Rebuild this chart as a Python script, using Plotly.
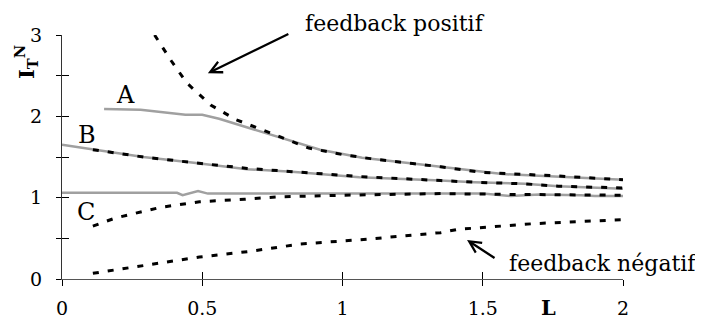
import plotly.graph_objects as go

# Curve A (grey, solid)
a_x = [0.15, 0.28, 0.44, 0.50, 0.56, 0.71, 0.83, 0.92, 1.01, 1.07, 1.25, 1.35, 1.57, 1.70, 2.0]
a_y = [2.09, 2.08, 2.02, 2.02, 1.97, 1.81, 1.69, 1.59, 1.53, 1.49, 1.42, 1.38, 1.29, 1.27, 1.22]

# Positive feedback (dashed)
pos_x = [0.33, 0.39, 0.445, 0.53, 0.62, 0.73, 0.82, 0.88, 1.0, 1.1, 1.25, 1.35, 1.5, 1.75, 2.0]
pos_y = [3.0, 2.68, 2.41, 2.14, 1.96, 1.81, 1.69, 1.61, 1.53, 1.48, 1.42, 1.38, 1.31, 1.27, 1.22]

# Curve B (grey, solid)
b_x = [0.0, 0.11, 0.29, 0.47, 0.66, 0.82, 1.06, 1.35, 1.47, 1.65, 1.77, 2.0]
b_y = [1.65, 1.59, 1.50, 1.43, 1.35, 1.32, 1.25, 1.21, 1.19, 1.17, 1.14, 1.11]

# Dashed along B
bd_x = [0.11, 0.29, 0.47, 0.66, 0.82, 1.06, 1.35, 1.47, 1.65, 1.77, 2.0]
bd_y = [1.59, 1.50, 1.43, 1.36, 1.32, 1.26, 1.21, 1.19, 1.17, 1.14, 1.12]

# Curve C (grey, solid)
c_x = [0.0, 0.30, 0.41, 0.43, 0.485, 0.52, 0.8, 1.2, 1.5, 1.6, 1.7, 1.85, 1.9, 2.0]
c_y = [1.06, 1.06, 1.06, 1.03, 1.08, 1.05, 1.05, 1.05, 1.05, 1.02, 1.04, 1.03, 1.02, 1.02]

# Dashed toward C
cd_x = [0.11, 0.19, 0.35, 0.49, 0.65, 0.77, 1.0, 1.35, 1.6, 2.0]
cd_y = [0.65, 0.75, 0.88, 0.95, 0.98, 1.01, 1.03, 1.05, 1.04, 1.03]

# Negative feedback (dashed)
neg_x = [0.11, 0.31, 0.49, 0.67, 0.85, 1.09, 1.35, 1.41, 1.68, 2.0]
neg_y = [0.07, 0.18, 0.27, 0.34, 0.43, 0.49, 0.57, 0.61, 0.68, 0.73]

x_ticks = [0, 0.5, 1, 1.5, 2]
x_ticklabels = ["0", "0.5", "1", "1.5", "2"]
y_ticks = [0, 0.5, 1, 1.5, 2, 2.5, 3]
y_ticklabels = ["0", "", "1", "", "2", "", "3"]

FONT = "DejaVu Serif"
GREY = "#a0a0a0"
DASH = "6px,9px"

fig = go.Figure()
for xs, ys in [(a_x, a_y), (b_x, b_y), (c_x, c_y)]:
    fig.add_trace(go.Scatter(x=xs, y=ys, mode="lines",
                             line=dict(color=GREY, width=2.5),
                             showlegend=False, hoverinfo="skip"))
for xs, ys in [(pos_x, pos_y), (bd_x, bd_y), (cd_x, cd_y), (neg_x, neg_y)]:
    fig.add_trace(go.Scatter(x=xs, y=ys, mode="lines",
                             line=dict(color="black", width=3, dash=DASH),
                             showlegend=False, hoverinfo="skip"))
# invisible trace for overlay axes (inside tick marks)
fig.add_trace(go.Scatter(x=neg_x, y=neg_y, mode="lines", xaxis="x2", yaxis="y2",
                         line=dict(width=0, color="rgba(0,0,0,0)"),
                         showlegend=False, hoverinfo="skip"))

# page has an 8px body margin: figure is shrunk and margins shifted to compensate
fig.update_layout(
    width=695, height=312,
    margin=dict(l=54, r=80, t=27, b=41, autoexpand=False),
    paper_bgcolor="white", plot_bgcolor="white",
    font=dict(family=FONT, size=19, color="black"),
    xaxis=dict(range=[0, 2], tickvals=x_ticks, ticktext=x_ticklabels,
               ticks="outside", ticklen=6, tickwidth=1, tickcolor="black",
               showline=True, linecolor="#555", linewidth=1, automargin=False,
               showgrid=False, zeroline=False, ticklabelstandoff=6,
               tickfont=dict(family=FONT, size=19)),
    yaxis=dict(range=[0, 3], tickvals=y_ticks, ticktext=y_ticklabels,
               ticks="outside", ticklen=5, tickwidth=1, tickcolor="black",
               showline=True, linecolor="#333", linewidth=1, automargin=False,
               showgrid=False, zeroline=False, ticklabelstandoff=10,
               tickfont=dict(family=FONT, size=19)),
    xaxis2=dict(overlaying="x", matches="x", anchor="y2", side="bottom",
                tickvals=x_ticks, ticks="inside", ticklen=7, tickwidth=1,
                tickcolor="black", showticklabels=False, showline=False,
                showgrid=False, zeroline=False, automargin=False),
    yaxis2=dict(overlaying="y", matches="y", anchor="x2", side="left",
                tickvals=y_ticks, ticks="inside", ticklen=7, tickwidth=1,
                tickcolor="black", showticklabels=False, showline=False,
                showgrid=False, zeroline=False, automargin=False),
)

# Curve labels
for txt, xv, yv in [("A", 0.225, 2.26), ("B", 0.089, 1.77), ("C", 0.085, 0.82)]:
    fig.add_annotation(x=xv, y=yv, text=txt, showarrow=False,
                       xanchor="center", yanchor="middle",
                       font=dict(family=FONT, size=24))

# Arrows
fig.add_annotation(x=0.52, y=2.53, ax=82, ay=-40, text="", showarrow=True,
                   arrowhead=5, arrowsize=1, arrowwidth=2.3, arrowcolor="black")
fig.add_annotation(x=1.444, y=0.48, ax=29, ay=19, text="", showarrow=True,
                   arrowhead=5, arrowsize=1, arrowwidth=2.3, arrowcolor="black")
fig.add_annotation(xref="paper", yref="paper", x=(395 - 62) / 561, y=(279 - 24) / 244,
                   text="feedback positif", showarrow=False,
                   xanchor="center", yanchor="middle",
                   font=dict(family=FONT, size=22))
fig.add_annotation(xref="paper", yref="paper", x=(603 - 62) / 561, y=(279 - 263) / 244,
                   text="feedback négatif", showarrow=False,
                   xanchor="center", yanchor="middle",
                   font=dict(family=FONT, size=22))

# Axis titles
fig.add_annotation(xref="paper", yref="paper", x=(548 - 62) / 561, y=(279 - 307) / 244,
                   text="<b>L</b>", showarrow=False, xanchor="center", yanchor="middle",
                   font=dict(family=FONT, size=21))
fig.add_annotation(xref="paper", yref="paper", x=(26 - 62) / 561, y=(279 - 62) / 244,
                   text="<b>I<sub>T</sub><sup>N</sup></b>", textangle=-90,
                   showarrow=False, xanchor="center", yanchor="middle",
                   font=dict(family=FONT, size=21))

fig.write_html("out.html")
